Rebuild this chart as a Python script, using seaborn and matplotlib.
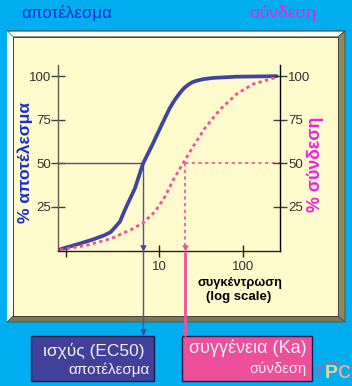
import numpy as np
import pandas as pd
import seaborn as sns
import matplotlib.pyplot as plt
from matplotlib.patches import Polygon, Rectangle, Arc

# values
conc_effect = [0.66, 0.99, 1.57, 2.26, 2.65, 2.92, 3.42, 4.0, 5.17, 6.49, 8.18, 10.8, 13.5, 15.5, 17.8, 20, 22.4, 25, 28.2, 34, 44.5, 84.8, 255]
effect = [0.7, 3.2, 6.1, 8.9, 10.6, 12.8, 16.6, 24.3, 35.7, 50.2, 59.8, 72.2, 81.8, 86.5, 90.4, 93.2, 95.1, 96.5, 97.4, 98.3, 99, 99.7, 100]
conc_binding = [0.66, 1.43, 2.72, 4.72, 6.49, 8.96, 11.8, 14.8, 19.5, 25.7, 35.5, 53.4, 84.8, 134, 255]
binding = [0.4, 3.2, 7, 12.2, 16, 22.3, 30.9, 40.5, 50.2, 59.8, 70.3, 80.8, 89.8, 95.5, 99.4]
y_ticks = [25, 50, 75, 100]
x_ticks = [0.776, 10, 100]
x_labels = ['', '10', '100']
ec50 = 6.44
ka = 20.4

CYAN = '#00ADEF'
CREAM = '#FFFBCC'
BLUE = '#3F44A0'
PINK = '#F0509C'
W, H = 352, 386

sns.set_style('white')
plt.rcParams['font.family'] = ['Liberation Sans', 'DejaVu Sans']

fig = plt.figure(figsize=(W / 100, H / 100), dpi=100, facecolor=CYAN)

# background layer in pixel coordinates, for the bevelled frame
bg = fig.add_axes([0, 0, 1, 1], zorder=0)
bg.set_xlim(0, W)
bg.set_ylim(H, 0)
bg.axis('off')
bg.add_patch(Polygon([(7, 31), (345, 31), (338, 37), (13, 37)], fc='white', ec='#404040', lw=0.8))
bg.add_patch(Polygon([(7, 31), (13, 37), (13, 316), (7, 322)], fc='white', ec='none'))
bg.add_patch(Polygon([(345, 31), (345, 322), (338, 316), (338, 37)], fc='#8A8A60', ec='#505040', lw=0.6))
bg.add_patch(Polygon([(7, 322), (345, 322), (338, 316), (13, 316)], fc='#77775A', ec='#505040', lw=0.6))
bg.add_patch(Rectangle((13, 37), 325, 279, fc=CREAM, ec='#303030', lw=0.6))

# boxes under the chart
bg.add_patch(Rectangle((30.5, 335.5), 123, 45, fc='#43409A', ec='#10204A', lw=1))
bg.add_patch(Rectangle((181.5, 335.5), 130, 45, fc='#EE4F9B', ec='#10204A', lw=1))
bg.text(94, 351, 'ισχύς (EC50)', color='#F0F0F0', fontsize=12.5, ha='center', va='center')
bg.text(109, 370, 'αποτέλεσμα', color='#F0F0F0', fontsize=11, ha='center', va='center')
bg.text(247.5, 348, 'συγγένεια (Ka)', color='#F0F0F0', fontsize=13, ha='center', va='center')
bg.text(277.5, 369, 'σύνδεση', color='#F0F0F0', fontsize=10.7, ha='center', va='center')

bg.text(66.5, 13, 'αποτέλεσμα', color='#1A2FD0', fontsize=12.2, ha='center', va='center')
bg.text(282.5, 13, 'σύνδεση', color='#F020E0', fontsize=12.5, ha='center', va='center')
bg.text(25, 162, '% αποτέλεσμα', color='#1A2FD0', fontsize=12.6, fontweight='bold',
        rotation=90, ha='center', va='center')
bg.text(316, 164, '% σύνδεση', color='#F020E0', fontsize=12.8, fontweight='bold',
        rotation=90, ha='center', va='center')
bg.text(240, 283, 'συγκέντρωση', color='black', fontsize=9.3, fontweight='bold', ha='center', va='center')
bg.text(239, 297, '(log scale)', color='black', fontsize=9.5, fontweight='bold', ha='center', va='center')

# small logo
bg.text(313, 373, 'T', color='#7A7AB8', fontsize=14, fontweight='bold', ha='left', va='center')
bg.text(325, 373, 'P', color='#E0D8A0', fontsize=14, fontweight='bold', ha='left', va='center')
bg.text(337, 373, 'C', color='#F0A890', fontsize=13, fontweight='bold', ha='left', va='center')
bg.add_patch(Arc((333, 366), 14, 8, theta1=180, theta2=360, color='#E06060', lw=0.8))

# main axes: x 58..280 px, y 65..250.6 px
ax = fig.add_axes([58 / W, 1 - 250.6 / H, 222 / W, 185.6 / H], zorder=2)
ax.patch.set_alpha(0)
ax.set_xscale('log')

df_effect = pd.DataFrame({'conc': conc_effect, 'pct': effect})
df_binding = pd.DataFrame({'conc': conc_binding, 'pct': binding})
sns.lineplot(data=df_effect, x='conc', y='pct', ax=ax, color=BLUE, lw=2.7, errorbar=None, zorder=4)
sns.lineplot(data=df_binding, x='conc', y='pct', ax=ax, color=PINK, lw=2,
             linestyle=(0, (1.2, 1.2)), errorbar=None, zorder=5)

ax.set_xlim(0.623, 279)
ax.set_ylim(0, 106.4)
ax.set_xlabel('')
ax.set_ylabel('')

ax.set_xticks(x_ticks)
ax.set_xticklabels(x_labels)
ax.minorticks_off()
ax.set_yticks(y_ticks)
ax.tick_params(axis='x', which='major', direction='inout', length=9, width=1, color='#202020',
               labelsize=9.5, labelcolor='#303030', pad=3, bottom=True)
ax.tick_params(axis='y', which='major', direction='inout', length=10, width=1, color='#404040',
               labelsize=9.5, labelcolor='#303030', pad=0, left=True)
for side in ['top', 'right']:
    ax.spines[side].set_visible(False)
ax.spines['left'].set_color('#606050')
ax.spines['left'].set_linewidth(1)
ax.spines['bottom'].set_color('#202020')
ax.spines['bottom'].set_linewidth(1)

ax2 = ax.twinx()
ax2.patch.set_alpha(0)
ax2.set_ylim(0, 106.4)
ax2.set_yticks(y_ticks)
ax2.tick_params(axis='y', direction='inout', length=10, width=1, color='#404040',
                labelsize=9.5, labelcolor='#303030', pad=1, right=True)
for side in ['top', 'left', 'bottom']:
    ax2.spines[side].set_visible(False)
ax2.spines['right'].set_color('black')
ax2.spines['right'].set_linewidth(1)

# guide lines and arrows
box_top = -48.4
ax.plot([0.623, ec50], [50, 50], color='#505090', lw=1, zorder=3)
ax.plot([ka, 279], [50, 50], color=PINK, lw=1.2, ls=(0, (2, 2)), zorder=3)
ax.plot([ec50, ec50], [50, box_top], color='#5050A0', lw=1, zorder=3, clip_on=False)
ax.plot([ka, ka], [50, 2], color=PINK, lw=1.2, ls=(0, (2, 2)), zorder=3, clip_on=False)
ax.plot([ka, ka], [-1, box_top], color=PINK, lw=2, zorder=3, clip_on=False)
for x0, col in [(ec50, '#4048A0'), (ka, PINK)]:
    ax.scatter([x0], [1.5], marker='v', s=22, color=col, zorder=6, clip_on=False, linewidths=0)
    ax.scatter([x0], [box_top + 2], marker='v', s=22, color=col, zorder=6, clip_on=False, linewidths=0)

fig.savefig('out.png', dpi=100, facecolor=CYAN)
